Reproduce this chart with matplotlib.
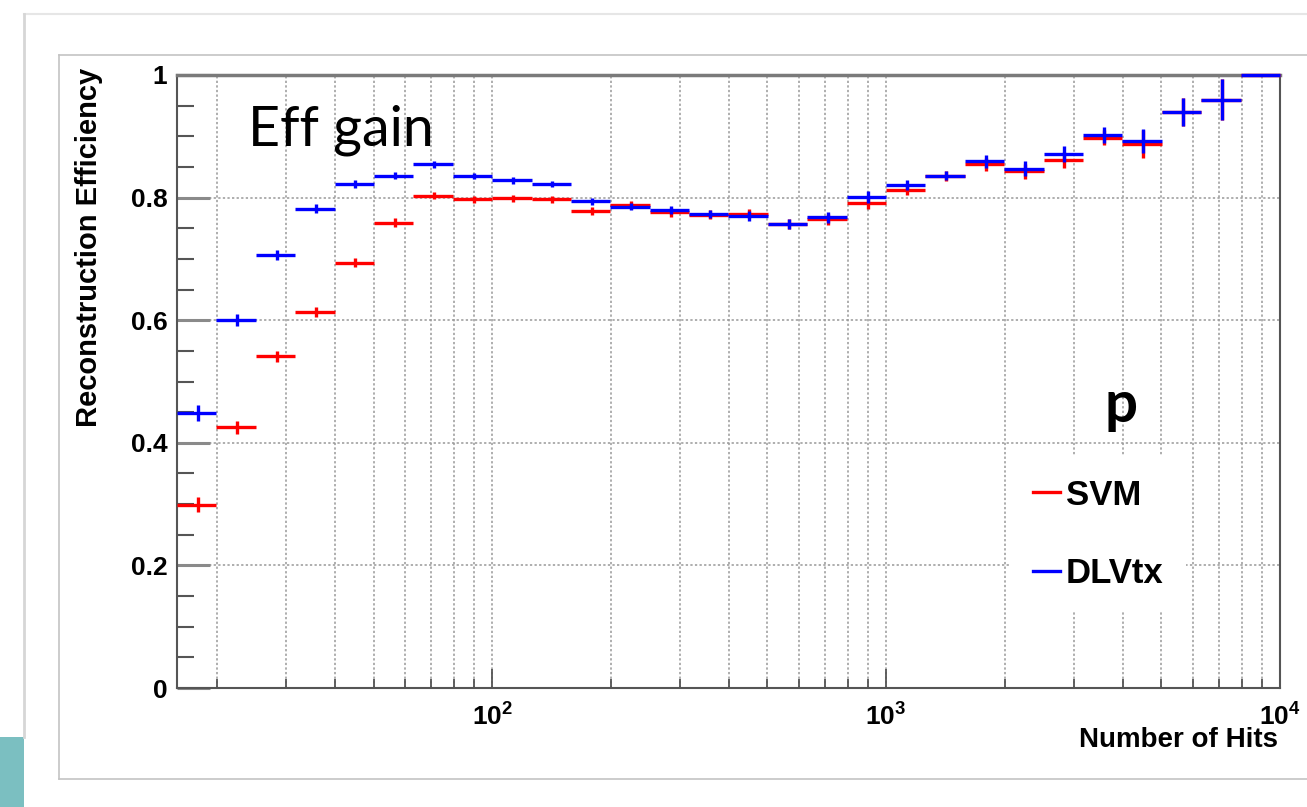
import numpy as np
import matplotlib
matplotlib.use('Agg')
import matplotlib.pyplot as plt
from matplotlib import ticker
from matplotlib.lines import Line2D
from matplotlib.patches import Rectangle

plt.rcParams['font.family'] = ['Liberation Sans', 'DejaVu Sans']
plt.rcParams['font.weight'] = 'bold'
plt.rcParams['mathtext.fontset'] = 'custom'
plt.rcParams['mathtext.rm'] = 'Liberation Sans:bold'
plt.rcParams['mathtext.bf'] = 'Liberation Sans:bold'

W, H = 1307, 807

# 28 log bins, 0.1 decade wide, 10^1.2 .. 10^4 hits
bin_edges = np.logspace(1.2, 4.0, 29)

eff_svm = [0.299, 0.425, 0.541, 0.614, 0.694, 0.759, 0.803, 0.797, 0.799, 0.797,
           0.778, 0.788, 0.776, 0.772, 0.774, 0.757, 0.765, 0.791, 0.812, 0.835,
           0.854, 0.843, 0.861, 0.898, 0.887, 0.940, 0.960, 1.000]
err_svm = [0.012, 0.010, 0.009, 0.008, 0.007, 0.007, 0.006, 0.006, 0.006, 0.006,
           0.006, 0.006, 0.007, 0.007, 0.008, 0.008, 0.009, 0.009, 0.008, 0.008,
           0.010, 0.012, 0.013, 0.013, 0.023, 0.023, 0.033, 0.0]
eff_dlvtx = [0.449, 0.600, 0.707, 0.782, 0.822, 0.836, 0.854, 0.835, 0.828, 0.822,
             0.794, 0.785, 0.780, 0.773, 0.770, 0.757, 0.768, 0.801, 0.820, 0.836,
             0.859, 0.847, 0.871, 0.902, 0.892, 0.940, 0.960, 1.000]
err_dlvtx = [0.013, 0.010, 0.008, 0.007, 0.006, 0.006, 0.005, 0.005, 0.005, 0.005,
             0.006, 0.006, 0.007, 0.007, 0.008, 0.008, 0.009, 0.009, 0.008, 0.008,
             0.010, 0.012, 0.013, 0.013, 0.020, 0.023, 0.033, 0.0]

series = ['SVM', 'DLVtx']
colors = ['#ff0000', '#0000ff']


def fx(x):
    return x / W


def fy(y):
    return 1 - y / H


fig = plt.figure(figsize=(W / 100, H / 100), dpi=100)
ax = fig.add_axes([fx(177), fy(688), fx(1280) - fx(177), fy(75) - fy(688)])
ax.set_xscale('log')

lo, hi = bin_edges[:-1], bin_edges[1:]
xc = (lo + hi) / 2
xerr = [xc - lo, hi - xc]

for eff, err, c in [(eff_svm, err_svm, colors[0]), (eff_dlvtx, err_dlvtx, colors[1])]:
    cont = ax.errorbar(xc, eff, xerr=xerr, yerr=err, fmt='none', ecolor=c,
                       elinewidth=2.4, capsize=0, zorder=3)
    for lc in cont.lines[2]:
        lc.set_clip_on(False)

ax.set_xlim(bin_edges[0], bin_edges[-1])
ax.set_ylim(0, 1)

# axis ticks, ROOT style: inside, left and bottom only
ax.yaxis.set_major_locator(ticker.MultipleLocator(0.2))
ax.yaxis.set_minor_locator(ticker.MultipleLocator(0.05))
ax.yaxis.set_major_formatter(ticker.FuncFormatter(lambda v, p: '%g' % round(v, 2)))
ax.xaxis.set_major_locator(ticker.LogLocator(base=10))
ax.xaxis.set_minor_locator(ticker.LogLocator(base=10, subs=np.arange(2, 10)))
ax.xaxis.set_major_formatter(ticker.FuncFormatter(lambda v, p: r'$10^{%d}$' % round(np.log10(v))))
ax.xaxis.set_minor_formatter(ticker.NullFormatter())

ax.tick_params(axis='y', which='major', direction='in', length=24, width=2.2,
               color='#8a8a8a', labelsize=19, pad=7, right=False)
ax.tick_params(axis='y', which='minor', direction='in', length=12, width=1.5,
               color='#555555', right=False)
ax.tick_params(axis='x', which='major', direction='in', length=14, width=1.3,
               color='#555555', labelsize=19, pad=10, top=False)
ax.tick_params(axis='x', which='minor', direction='in', length=6.5, width=1.3,
               color='#555555', top=False)

ax.set_axisbelow(True)
ax.yaxis.grid(True, which='major', ls=(0, (1.5, 1.5)), color='#999999', lw=1.1)
ax.xaxis.grid(True, which='both', ls=(0, (1.5, 1.5)), color='#999999', lw=1.1)

for side in ['left', 'bottom', 'right']:
    ax.spines[side].set_color('#555555')
    ax.spines[side].set_linewidth(1.5)
ax.spines['top'].set_color('#7a7a7a')
ax.spines['top'].set_linewidth(2.5)

# titles and annotations
fig.text(fx(103), fy(68), 'Reconstruction Efficiency', rotation=90, rotation_mode='anchor',
         ha='right', va='bottom', fontsize=21)
fig.text(fx(1278), fy(727), 'Number of Hits', ha='right', va='top', fontsize=20)
fig.text(fx(248), fy(145), 'Eff gain', family=['Lato', 'DejaVu Sans'], weight='normal',
         fontsize=40, ha='left', va='baseline')
fig.text(fx(1105), fy(422), 'p', family=['Lato', 'DejaVu Sans'], weight='bold',
         fontsize=42, ha='left', va='baseline')

handles = [Line2D([], [], color=c, lw=2.4) for c in colors]
ax.legend(handles, series, loc='upper left', bbox_to_anchor=(fx(1010), fy(456)),
          bbox_transform=fig.transFigure, fontsize=25, handlelength=0.8,
          handletextpad=0.15, labelspacing=1.3, borderpad=0.65, borderaxespad=0,
          frameon=True, fancybox=False, edgecolor='none', facecolor='white', framealpha=1)

# canvas border and page frame
gray = dict(transform=fig.transFigure, color='#c4c4c4', lw=1.2)
fig.add_artist(Line2D([fx(59), fx(1307)], [fy(55), fy(55)], **gray))
fig.add_artist(Line2D([fx(59), fx(59)], [fy(55), fy(779)], **gray))
fig.add_artist(Line2D([fx(59), fx(1307)], [fy(779), fy(779)], **gray))
fig.add_artist(Line2D([fx(24), fx(1307)], [fy(14), fy(14)], transform=fig.transFigure,
                      color='#e6e6e6', lw=1.5))
fig.add_artist(Line2D([fx(24), fx(24)], [fy(14), fy(737)], transform=fig.transFigure,
                      color='#d6d6d6', lw=2))
fig.add_artist(Rectangle((0, 0), fx(24), fy(737), transform=fig.transFigure,
                         color='#7bbfc1', lw=0))

fig.savefig('out.png', dpi=100)
